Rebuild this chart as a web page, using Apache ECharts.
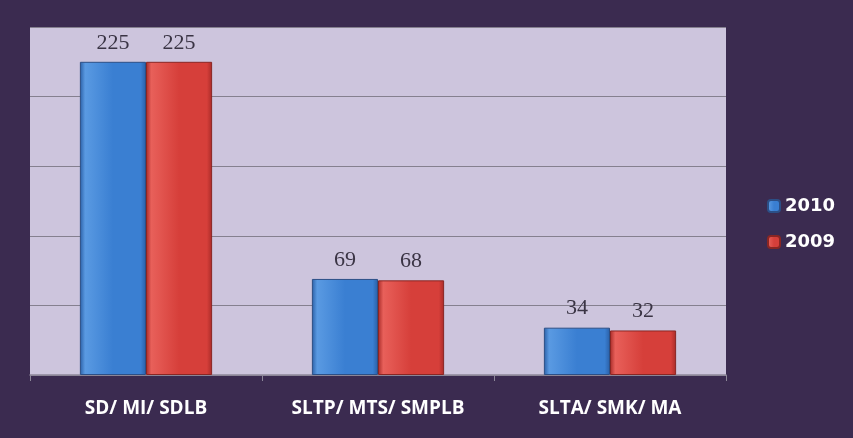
<!DOCTYPE html>
<html>
<head>
<meta charset="utf-8">
<script src="https://cdn.jsdelivr.net/npm/echarts@6/dist/echarts.min.js"></script>
<style>
html,body{margin:0;padding:0;background:#3b2b50;}
#chart{width:853px;height:438px;}
</style>
</head>
<body>
<div id="chart"></div>
<script>
var categories = ["SD/ MI/ SDLB", "SLTP/ MTS/ SMPLB", "SLTA/ SMK/ MA"];
var seriesNames = ["2010", "2009"];
var values2010 = [225, 69, 34];
var values2009 = [225, 68, 32];

function barGrad(dark, mid, light){
    return new echarts.graphic.LinearGradient(0, 0, 1, 0, [
        {offset: 0, color: dark},
        {offset: 0.08, color: light},
        {offset: 0.5, color: mid},
        {offset: 0.92, color: mid},
        {offset: 1, color: dark}
    ]);
}

var chart = echarts.init(document.getElementById('chart'));
var labelStyle = {
    show: true,
    position: 'top',
    distance: 8,
    color: '#3a3444',
    fontFamily: 'Liberation Serif',
    fontSize: 22
};
var option = {
    backgroundColor: '#3b2b50',
    animation: false,
    grid: {
        left: 30, right: 127, top: 27, bottom: 63,
        show: true,
        backgroundColor: '#cdc5dd',
        borderWidth: 0
    },
    legend: {
        orient: 'vertical',
        left: 762,
        top: 192,
        itemWidth: 12,
        itemHeight: 12,
        itemGap: 18,
        textStyle: {color: '#ffffff', fontFamily: 'DejaVu Sans', fontWeight: 'bold', fontSize: 18},
        data: seriesNames
    },
    xAxis: {
        type: 'category',
        data: categories,
        axisLine: {lineStyle: {color: '#8d8799', width: 1.5}},
        axisTick: {show: true, length: 6, lineStyle: {color: '#8d8799'}},
        axisLabel: {
            color: '#ffffff',
            fontFamily: 'Open Sans',
            fontWeight: 'bold',
            fontSize: 19,
            margin: 24
        }
    },
    yAxis: {
        type: 'value',
        min: 0,
        max: 250,
        interval: 50,
        axisLabel: {show: false},
        axisLine: {show: false},
        axisTick: {show: false},
        splitLine: {lineStyle: {color: '#85808f', width: 1}}
    },
    series: [
        {
            name: seriesNames[0],
            type: 'bar',
            data: values2010,
            barGap: '0%',
            barCategoryGap: '43%',
            itemStyle: {color: barGrad('#2a5fa6', '#3a7fd2', '#5a9ae2'), borderColor: '#2c4f86', borderWidth: 1},
            label: labelStyle
        },
        {
            name: seriesNames[1],
            type: 'bar',
            data: values2009,
            itemStyle: {color: barGrad('#a82b28', '#d63f3a', '#e8605a'), borderColor: '#8a2623', borderWidth: 1},
            label: labelStyle
        }
    ]
};
chart.setOption(option);
</script>
</body>
</html>
